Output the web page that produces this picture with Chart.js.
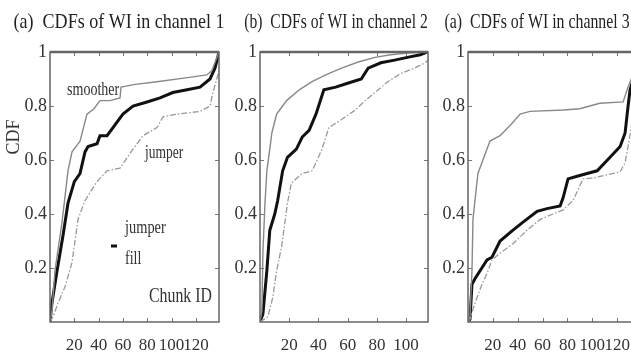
<!DOCTYPE html>
<html>
<head>
<meta charset="utf-8">
<script src="https://cdn.jsdelivr.net/npm/chart.js@4.4.0/dist/chart.umd.min.js"></script>
<style>
  html, body { margin: 0; padding: 0; background: #fff; overflow: hidden; width: 631px; height: 359px; }
  canvas { position: absolute; top: 0; }
</style>
</head>
<body>
<canvas id="ch1" width="226" height="359" style="left:0px"></canvas>
<canvas id="ch2" width="206" height="359" style="left:226px"></canvas>
<canvas id="ch3" width="216" height="359" style="left:432px"></canvas>
<script>
// tick values
const yTicks = [0.2, 0.4, 0.6, 0.8, 1]
const xTicks1 = [20, 40, 60, 80, 100, 120]
const xTicks2 = [20, 40, 60, 80, 100]
const xTicks3 = [20, 40, 60, 80, 100, 120]

// channel 1  [chunk id, cdf]
const ch1Smoother = [[0,0],[1.6,0.04],[4.1,0.19],[9.9,0.37],[14.8,0.56],[18.1,0.63],[24.7,0.67],[30.4,0.77],[36.2,0.79],[41.1,0.82],[49.3,0.82],[57.6,0.83],[58.4,0.87],[70,0.88],[88,0.89],[113,0.905],[129,0.915],[133,0.93],[139,1]]
const ch1Fill = [[0,0],[1.6,0.07],[5.8,0.19],[10.7,0.32],[14.8,0.44],[20,0.52],[24.7,0.55],[28.8,0.63],[31.3,0.65],[38.7,0.66],[41.1,0.69],[46.9,0.69],[51.8,0.72],[60,0.77],[68.3,0.8],[79.8,0.815],[90.5,0.83],[101,0.85],[112.7,0.86],[123.4,0.87],[131.6,0.9],[135.7,0.94],[139,1]]
const ch1Jumper = [[0,0],[2.5,0.02],[6.6,0.07],[12.3,0.13],[18.1,0.22],[23,0.38],[28.8,0.45],[38.7,0.52],[46.9,0.56],[57.6,0.57],[68.3,0.64],[76.5,0.69],[88,0.72],[93,0.76],[104.4,0.77],[123.4,0.78],[131.6,0.8],[134,0.85],[139,0.93]]

// channel 2
const ch2Smoother = [[0,0],[1.3,0.04],[2,0.26],[3.4,0.44],[4.7,0.56],[6.7,0.64],[8.1,0.7],[11.4,0.77],[18.2,0.82],[26.9,0.86],[35.6,0.89],[45,0.915],[55.8,0.94],[67.2,0.963],[78.7,0.98],[89.4,0.99],[100.9,0.996],[112.3,1],[115,1]]
const ch2Fill = [[0,0],[2,0.03],[4.7,0.19],[6.7,0.34],[10.1,0.4],[12.1,0.45],[15.5,0.56],[18.8,0.61],[24.9,0.64],[28.9,0.685],[33.6,0.71],[38.3,0.77],[43.7,0.86],[51.8,0.87],[60.5,0.885],[69.3,0.9],[74,0.94],[82.7,0.96],[92.1,0.97],[100.9,0.98],[109.6,0.99],[114.3,1],[115,1]]
const ch2Jumper = [[0,0],[5.4,0.02],[8.7,0.09],[11.4,0.19],[14.8,0.28],[18.8,0.44],[21.5,0.515],[28.9,0.55],[35.6,0.56],[38.3,0.59],[42.4,0.64],[47.1,0.72],[55.8,0.75],[65.2,0.785],[72,0.82],[78.7,0.85],[87.4,0.89],[96.2,0.92],[105.6,0.94],[113,0.96],[115,0.97]]

// channel 3
const ch3Smoother = [[0,0],[1.6,0.02],[3.2,0.19],[4,0.38],[5.6,0.45],[8,0.55],[12,0.6],[17.7,0.67],[25.8,0.69],[32.2,0.72],[36.2,0.74],[41.9,0.77],[49.9,0.78],[76.5,0.785],[90,0.79],[106,0.81],[124.8,0.815],[128.8,0.87],[134,0.93],[140,1]]
const ch3Fill = [[0,0],[1.6,0.01],[3.2,0.14],[5.6,0.16],[9.7,0.19],[15.3,0.23],[19.3,0.24],[25.8,0.3],[36.2,0.34],[44.3,0.37],[55.6,0.41],[63.6,0.42],[74.1,0.43],[76.5,0.46],[80.5,0.53],[87.8,0.54],[95.8,0.55],[103.9,0.56],[114.3,0.61],[122.4,0.65],[126.4,0.7],[128.8,0.8],[130.4,0.86],[135,0.93],[140,1]]
const ch3Jumper = [[0,0],[1.6,0.01],[5.6,0.07],[11.3,0.14],[15.3,0.18],[19.3,0.23],[25.8,0.255],[36.2,0.29],[47.5,0.34],[58,0.38],[68.4,0.4],[76.5,0.415],[84.5,0.45],[92.6,0.53],[100.6,0.533],[111.9,0.545],[122.4,0.556],[126.4,0.59],[128.8,0.65],[132,0.74],[140,0.85]]

const serif = "'Liberation Serif', 'Times New Roman', serif"

// box frame, inward ticks, panel title and the in-plot labels
const framePlugin = {
  id: "frame",
  afterDatasetsDraw(chart, args, opts) {
    const { ctx, chartArea: a, scales } = chart
    const x = scales.x, y = scales.y
    ctx.save()
    ctx.strokeStyle = "#777"
    ctx.lineWidth = 1
    ctx.beginPath()
    x.ticks.forEach(t => {
      const px = Math.round(x.getPixelForValue(t.value)) + 0.5
      ctx.moveTo(px, a.bottom); ctx.lineTo(px, a.bottom - 4)
      ctx.moveTo(px, a.top); ctx.lineTo(px, a.top + 4)
    })
    y.ticks.forEach(t => {
      const py = Math.round(y.getPixelForValue(t.value)) + 0.5
      ctx.moveTo(a.left, py); ctx.lineTo(a.left + 4, py)
      ctx.moveTo(a.right, py); ctx.lineTo(a.right - 4, py)
    })
    ctx.stroke()

    ctx.strokeStyle = "#666"
    ctx.lineWidth = 1.5
    ctx.strokeRect(a.left, a.top, a.right - a.left, a.bottom - a.top)
    ctx.lineWidth = 2.5
    ctx.beginPath()
    ctx.moveTo(a.left, a.top); ctx.lineTo(a.right, a.top)
    ctx.stroke()

    ;(opts.notes || []).forEach(n => {
      ctx.save()
      ctx.fillStyle = n.color || "#333"
      ctx.font = n.size + "px " + serif
      ctx.translate(n.x, n.y)
      if (n.rotate) ctx.rotate(n.rotate)
      ctx.scale(n.sx || 1, 1)
      ctx.textAlign = n.align || "left"
      ctx.fillText(n.text, 0, 0)
      ctx.restore()
    })
    if (opts.key) {
      ctx.strokeStyle = "#111"
      ctx.lineWidth = 3
      ctx.beginPath()
      ctx.moveTo(opts.key.x1, opts.key.y); ctx.lineTo(opts.key.x2, opts.key.y)
      ctx.stroke()
    }
    ctx.restore()
  }
}

function makePanel(id, p) {
  const notes = [{ text: p.title, x: p.titleX, y: 28, size: 22, sx: p.titleSx, align: "center", color: "#222" }].concat(p.notes)
  new Chart(document.getElementById(id), {
    type: "line",
    data: {
      datasets: [
        { label: "smoother", data: p.smoother, borderColor: "#888", borderWidth: 1.4 },
        { label: "jumper", data: p.jumper, borderColor: "#9a9a9a", borderWidth: 1.3, borderDash: [6, 2, 1.5, 2] },
        { label: "jumper fill", data: p.fill, borderColor: "#111", borderWidth: 3 },
      ],
    },
    options: {
      responsive: false,
      animation: false,
      events: [],
      elements: { point: { radius: 0 }, line: { tension: 0 } },
      layout: { padding: { left: 0, right: p.padR, top: 52, bottom: 0 } },
      plugins: {
        legend: { display: false },
        tooltip: { enabled: false },
        title: { display: false },
        frame: { notes: notes, key: p.key },
      },
      scales: {
        x: {
          type: "linear",
          min: 0,
          max: p.xMax,
          grid: { display: false, drawTicks: false },
          border: { display: false },
          afterBuildTicks: s => { s.ticks = p.xTicks.map(v => ({ value: v })) },
          afterFit: s => { s.height = 37 },
          ticks: { color: "#333", padding: 13, maxRotation: 0, autoSkip: false, font: { family: serif, size: 17 } },
        },
        y: {
          min: 0,
          max: 1,
          grid: { display: false, drawTicks: false },
          border: { display: false },
          afterBuildTicks: s => { s.ticks = yTicks.map(v => ({ value: v })) },
          afterFit: s => { s.width = p.yWidth },
          ticks: { color: "#333", padding: 3, font: { family: serif, size: 18 }, callback: v => String(v) },
        },
      },
    },
    plugins: [framePlugin],
  })
}

makePanel("ch1", {
  smoother: ch1Smoother, fill: ch1Fill, jumper: ch1Jumper,
  title: "(a)  CDFs of WI in channel 1", titleX: 119, titleSx: 0.82,
  xMax: 139, xTicks: xTicks1, padR: 7, yWidth: 50,
  notes: [
    { text: "smoother", x: 67, y: 95, size: 18, sx: 0.78 },
    { text: "jumper", x: 145, y: 158, size: 18, sx: 0.75 },
    { text: "jumper", x: 125, y: 233, size: 18, sx: 0.8 },
    { text: "fill", x: 125, y: 264, size: 18, sx: 0.78 },
    { text: "Chunk ID", x: 149, y: 302, size: 22, sx: 0.72 },
    { text: "CDF", x: 19, y: 137, size: 18, rotate: -Math.PI / 2, align: "center" },
  ],
  key: { x1: 111, x2: 117, y: 246 },
})

makePanel("ch2", {
  smoother: ch2Smoother, fill: ch2Fill, jumper: ch2Jumper,
  title: "(b)  CDFs of WI in channel 2", titleX: 110, titleSx: 0.71,
  xMax: 115, xTicks: xTicks2, padR: 1, yWidth: 34,
  notes: [],
})

makePanel("ch3", {
  smoother: ch3Smoother, fill: ch3Fill, jumper: ch3Jumper,
  title: "(a)  CDFs of WI in channel 3", titleX: 105, titleSx: 0.72,
  xMax: 140, xTicks: xTicks3, padR: 6, yWidth: 36,
  notes: [],
})
</script>
</body>
</html>
